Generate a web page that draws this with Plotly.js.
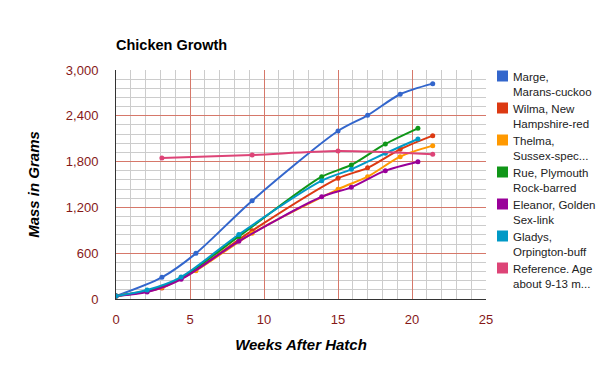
<!DOCTYPE html>
<html>
<head>
<meta charset="utf-8">
<script src="https://cdn.plot.ly/plotly-3.0.1.min.js"></script>
<style>html,body{margin:0;padding:0;background:#fff;}#chart{width:600px;height:371px;}</style>
</head>
<body>
<div id="chart"></div>
<script>
// Weeks after hatch for the two weighing groups
const weeksA = [0, 3.1, 5.4, 9.2, 15, 17, 19.2, 21.4];
const weeksB = [0, 2.1, 4.4, 8.3, 13.9, 15.9, 18.2, 20.4];
const weeksRef = [3.1, 9.2, 15, 21.4];

const names = [
  "Marge,<br>Marans-cuckoo",
  "Wilma, New<br>Hampshire-red",
  "Thelma,<br>Sussex-spec...",
  "Rue, Plymouth<br>Rock-barred",
  "Eleanor, Golden<br>Sex-link",
  "Gladys,<br>Orpington-buff",
  "Reference. Age<br>about 9-13 m..."
];

const marge   = [40, 284, 598, 1288, 2201, 2406, 2682, 2821];
const wilma   = [40, 145, 385, 895, 1581, 1718, 1961, 2140];
const thelma  = [40, 153, 371, 860, 1437, 1602, 1865, 2009];
const rue     = [40, 105, 278, 820, 1602, 1756, 2031, 2236];
const eleanor = [40, 92, 258, 755, 1340, 1463, 1681, 1799];
const gladys  = [40, 118, 288, 845, 1550, 1699, 1909, 2096];
const reference = [1847, 1887, 1939, 1896];

const colors = ["#3366cc", "#dc3912", "#ff9900", "#109618", "#990099", "#0099c6", "#dd4477"];

const series = [
  [weeksA, marge], [weeksA, wilma], [weeksA, thelma],
  [weeksB, rue], [weeksB, eleanor], [weeksB, gladys],
  [weeksRef, reference]
];

const traces = series.map((s, i) => ({
  type: "scatter", mode: "lines+markers",
  x: s[0], y: s[1], name: names[i], showlegend: false,
  line: {color: colors[i], width: 2, shape: "spline", smoothing: 0.8},
  marker: {color: colors[i], size: 5},
  hoverinfo: "x+y"
}));

// Plot-area geometry in pixels (for the hand-placed legend)
const W = 600, H = 371;
const M = {l: 116, r: 114, t: 70, b: 72};
const pw = W - M.l - M.r, ph = H - M.t - M.b;
const px = v => (v - M.l) / pw;          // pixel x -> paper x
const py = v => (H - M.b - v) / ph;      // pixel y -> paper y

const shapes = [], annotations = [];
names.forEach((n, i) => {
  const yc = 76 + 32 * i;
  shapes.push({
    type: "rect", xref: "paper", yref: "paper",
    x0: px(497), x1: px(508), y0: py(yc + 5.5), y1: py(yc - 5.5),
    fillcolor: colors[i], line: {width: 0}
  });
  annotations.push({
    xref: "paper", yref: "paper", x: px(511), y: py(yc - 7),
    xanchor: "left", yanchor: "top", align: "left", showarrow: false,
    text: n, font: {size: 11.5, color: "#222"}
  });
});

const tickColor = "#861818";
const majorGrid = "#d6786a";
const minorGrid = "#cccccc";

const layout = {
  width: W, height: H,
  margin: {l: M.l, r: M.r, t: M.t, b: M.b, autoexpand: false},
  paper_bgcolor: "#ffffff", plot_bgcolor: "#ffffff",
  font: {family: "Liberation Sans, Arial, sans-serif", size: 13, color: "#222"},
  title: {
    text: "<b>Chicken Growth</b>",
    x: 116 / 600, xanchor: "left", y: 1 - 45 / 371, yanchor: "middle",
    font: {size: 14.5, color: "#000"}
  },
  showlegend: false,
  shapes: shapes,
  annotations: annotations,
  xaxis: {
    range: [0, 25], dtick: 5, tick0: 0,
    showgrid: true, gridcolor: majorGrid, gridwidth: 1,
    minor: {dtick: 1, showgrid: true, gridcolor: minorGrid, gridwidth: 1, ticks: ""},
    zeroline: false, showline: true, linecolor: "#333", linewidth: 1,
    ticks: "outside", ticklen: 8, tickcolor: "rgba(0,0,0,0)",
    tickfont: {size: 13, color: tickColor},
    title: {text: "<b><i>Weeks After Hatch</i></b>", font: {size: 15, color: "#000"}, standoff: 13}
  },
  yaxis: {
    range: [0, 3000], dtick: 600, tick0: 0, tickformat: ",d",
    showgrid: true, gridcolor: majorGrid, gridwidth: 1,
    minor: {dtick: 120, showgrid: true, gridcolor: minorGrid, gridwidth: 1, ticks: ""},
    zeroline: false, showline: true, linecolor: "#333", linewidth: 1,
    ticks: "outside", ticklen: 14, tickcolor: "rgba(0,0,0,0)",
    tickfont: {size: 13, color: tickColor},
    title: {text: "<b><i>Mass in Grams</i></b>", font: {size: 15, color: "#000"}, standoff: 22}
  }
};

Plotly.newPlot("chart", traces, layout, {displayModeBar: false, staticPlot: true});
</script>
</body>
</html>
